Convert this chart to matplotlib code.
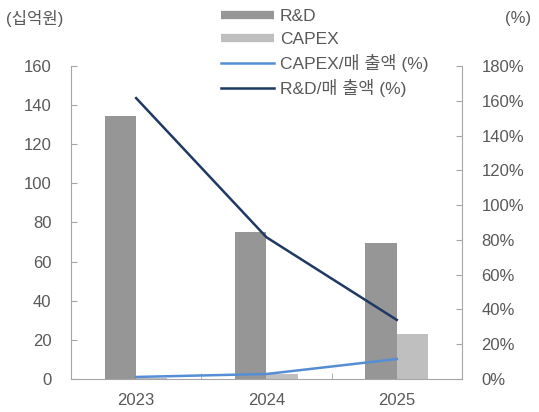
import numpy as np
import matplotlib
matplotlib.use("Agg")
from matplotlib import pyplot as plt
from matplotlib.lines import Line2D

plt.rcParams['font.family'] = ['Liberation Sans', 'Noto Sans CJK KR', 'DejaVu Sans']

years = ['2023', '2024', '2025']
rnd = [134.5, 75.0, 69.5]          # 십억원
capex = [0.5, 2.5, 23.0]           # 십억원
capex_ratio = [1.2, 2.9, 11.5]     # %
rnd_ratio = [161.5, 81.5, 34.0]    # %

txt = '#595959'
spine = '#a6a6a6'

fig = plt.figure(figsize=(5.39, 4.12), dpi=100)
ax = fig.add_axes([0.1317, 0.080, 0.7253, 0.760])
ax2 = ax.twinx()

x = np.arange(len(years))
w = 0.24
ax.bar(x - w / 2, rnd, width=w, color='#969696', zorder=2)
ax.bar(x + w / 2, capex, width=w, color='#bfbfbf', zorder=2)

ax2.plot(x, capex_ratio, color='#558ed5', lw=1.8, zorder=3)
ax2.plot(x, rnd_ratio, color='#1f3864', lw=1.8, zorder=3)

ax.set_xlim(-0.5, 2.5)
ax.set_ylim(0, 160)
ax.set_yticks(range(0, 161, 20))
ax2.set_ylim(0, 180)
ax2.set_yticks(range(0, 181, 20))
ax2.set_yticklabels([f'{v}%' for v in range(0, 181, 20)])

ax.set_xticks(x)
ax.set_xticklabels(years)
ax.set_xticks([0.5, 1.5], minor=True)
ax.tick_params(axis='x', which='major', length=0, pad=10, labelsize=12, labelcolor=txt)
ax.tick_params(axis='x', which='minor', direction='in', length=4, color=spine)
ax.tick_params(axis='y', direction='in', length=4, color=spine, pad=14,
               labelsize=12, labelcolor=txt)
ax2.tick_params(axis='y', direction='in', length=4, color=spine, pad=14,
                labelsize=12, labelcolor=txt)

for a in (ax, ax2):
    a.spines['top'].set_visible(False)
    for s in ('left', 'right', 'bottom'):
        a.spines[s].set_color(spine)
ax.spines['right'].set_visible(False)
ax2.spines['left'].set_visible(False)
ax2.spines['bottom'].set_visible(False)

handles = [
    Line2D([], [], color='#969696', lw=6, solid_capstyle='butt'),
    Line2D([], [], color='#bfbfbf', lw=6, solid_capstyle='butt'),
    Line2D([], [], color='#558ed5', lw=1.8),
    Line2D([], [], color='#1f3864', lw=1.8),
]
labels = ['R&D', 'CAPEX', 'CAPEX/매 출액 (%)', 'R&D/매 출액 (%)']
leg = fig.legend(handles, labels, loc='upper left', bbox_to_anchor=(0.398, 0.995),
                 frameon=False, fontsize=12.5, handlelength=3.0, handletextpad=0.35,
                 labelspacing=0.42, borderaxespad=0)
for t in leg.get_texts():
    t.set_color(txt)

fig.text(0.012, 0.955, '(십억원)', fontsize=12, color=txt, va='center')
fig.text(0.985, 0.955, '(%)', fontsize=12, color=txt, va='center', ha='right')

fig.savefig('out.png', dpi=100)
